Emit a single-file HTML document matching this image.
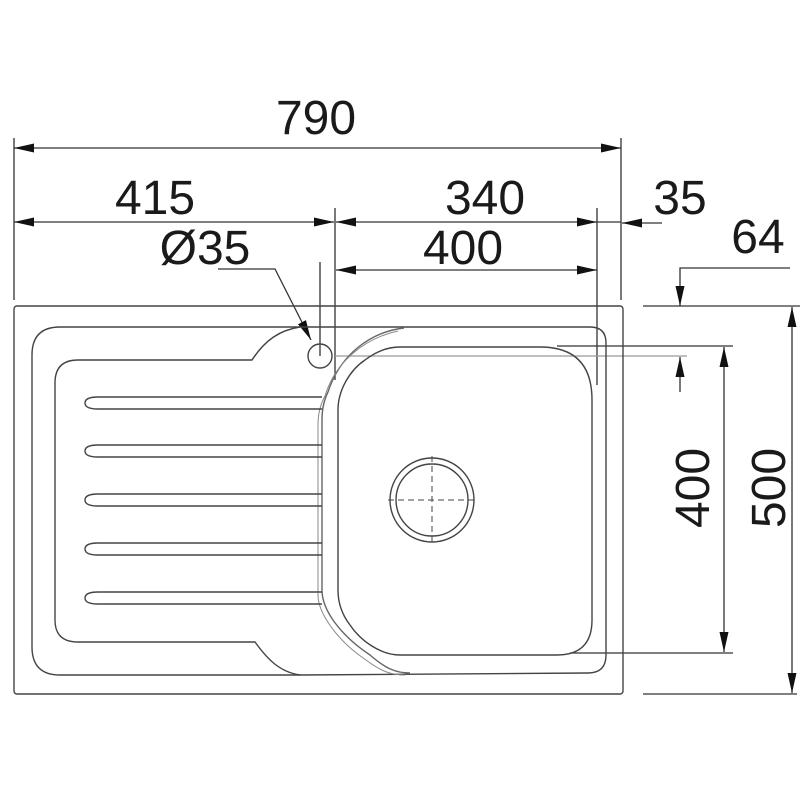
<!DOCTYPE html>
<html><head><meta charset="utf-8"><style>
html,body{margin:0;padding:0;background:#fff;}
svg{display:block}
text{font-family:"Liberation Sans",Arial,sans-serif;font-size:48px;fill:#1a1a1a}
</style></head><body>
<svg width="800" height="800" viewBox="0 0 800 800" xmlns="http://www.w3.org/2000/svg">
<defs>
<marker id="a" viewBox="0 0 20 9" refX="20" refY="4.5" markerWidth="20" markerHeight="9" markerUnits="userSpaceOnUse" orient="auto-start-reverse"><path d="M0,0 L20,4.5 L0,9 Z" fill="#111"/></marker>
</defs>
<g stroke="#333" stroke-width="1.3" fill="none">
<line x1="14" y1="138" x2="14" y2="300"/>
<line x1="621" y1="138" x2="621" y2="300"/>
<line x1="335" y1="208" x2="335" y2="380"/>
<line x1="597" y1="208" x2="597" y2="385"/>
<line x1="320" y1="262" x2="320" y2="356"/>
<line x1="14" y1="148" x2="621" y2="148" marker-start="url(#a)" marker-end="url(#a)"/>
<line x1="14" y1="222" x2="334" y2="222" marker-start="url(#a)" marker-end="url(#a)"/>
<line x1="336" y1="222" x2="597" y2="222" marker-start="url(#a)" marker-end="url(#a)"/>
<line x1="597" y1="222" x2="621" y2="222"/>
<line x1="622" y1="223" x2="662" y2="223" marker-start="url(#a)"/>
<line x1="336" y1="270" x2="597" y2="270" marker-start="url(#a)" marker-end="url(#a)"/>
<polyline points="218,269 275,269 311,340" marker-end="url(#a)"/>
<polyline points="790,268 680,268 680,306" marker-end="url(#a)"/>
<line x1="680" y1="392" x2="680" y2="357" marker-end="url(#a)"/>
<line x1="643" y1="306" x2="800" y2="306"/>
<line x1="557" y1="346" x2="733" y2="346"/>
<line x1="335" y1="356" x2="687" y2="356" stroke="#999"/>
<line x1="570" y1="653" x2="733" y2="653"/>
<line x1="643" y1="694" x2="797" y2="694"/>
<line x1="724" y1="347" x2="724" y2="652" marker-start="url(#a)" marker-end="url(#a)"/>
<line x1="792" y1="307" x2="792" y2="693" marker-start="url(#a)" marker-end="url(#a)"/>
</g>
<g stroke="#444" stroke-width="1.4" fill="none">
<rect x="14" y="306" width="609" height="388" rx="3"/>
<path d="M300,327 L590,327 Q606,327 606,343 L606,655 Q606,673 588,673 L300,675 L60,675 Q32,675 32,647 L32,355 Q32,327 60,327 Z"/>
<path d="M300,327 C280,330 265,340 252,360 L78,360 Q55,360 55,383 L55,620 Q55,642 78,642 L255,642 C268,660 280,672 300,675"/>
<path d="M404,328 C370,332 340,355 328,392 C324,400 322,410 322,420 L322,590 C322,610 340,635 370,655 C385,668 395,673 410,673" stroke="#666"/>
<path d="M398,331 C365,338 335,362 325,396 C320,405 318,415 318,425 L318,595 C318,612 336,640 366,660 C382,672 392,675 405,675" stroke="#888" stroke-width="1"/>
<path d="M400,347 L540,347 Q592,347 592,400 L592,620 Q592,655 557,655 L400,655 C380,655 360,640 350,625 C340,612 338,600 338,590 L338,410 C338,390 350,370 365,360 C378,350 390,347 400,347 Z"/>
<path d="M322,397 L98,397 Q85,397 85,403 Q85,409 98,409 L322,409"/>
<path d="M322,445 L98,445 Q85,445 85,451 Q85,457 98,457 L322,457"/>
<path d="M322,494 L98,494 Q85,494 85,500 Q85,506 98,506 L322,506"/>
<path d="M322,543 L98,543 Q85,543 85,549 Q85,555 98,555 L322,555"/>
<path d="M322,592 L98,592 Q85,592 85,598 Q85,604 98,604 L322,604"/>
<circle cx="320" cy="356" r="12"/>
<circle cx="432" cy="500" r="42"/>
<circle cx="432" cy="500" r="36"/>
<line x1="388" y1="500" x2="476" y2="500" stroke-dasharray="6,4" stroke-width="1"/>
<line x1="432" y1="456" x2="432" y2="545" stroke-dasharray="6,4" stroke-width="1"/>
</g>
<text x="316" y="134" text-anchor="middle">790</text>
<text x="155" y="214" text-anchor="middle">415</text>
<text x="485" y="214" text-anchor="middle">340</text>
<text x="680" y="214" text-anchor="middle" font-size="42">35</text>
<text x="758" y="253" text-anchor="middle" font-size="42">64</text>
<text x="205" y="264" text-anchor="middle">Ø35</text>
<text x="463" y="264" text-anchor="middle">400</text>
<text transform="translate(709,488) rotate(-90)" text-anchor="middle">400</text>
<text transform="translate(785,488) rotate(-90)" text-anchor="middle">500</text>
</svg>
</body></html>
